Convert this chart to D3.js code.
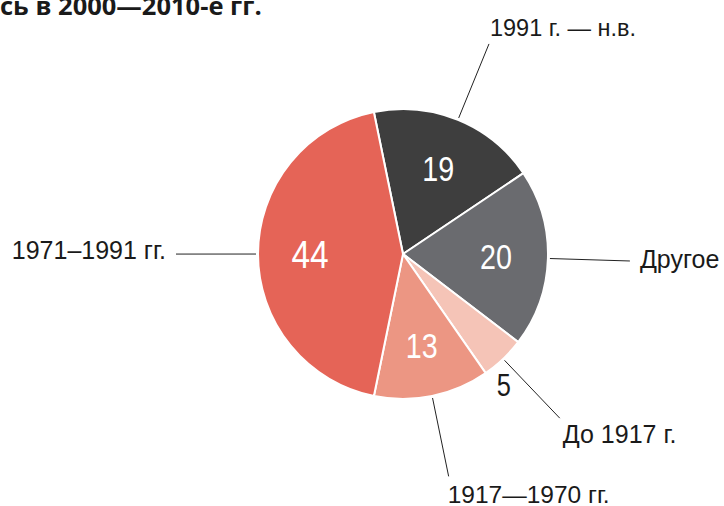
<!DOCTYPE html>
<html>
<head>
<meta charset="utf-8">
<script src="https://cdn.jsdelivr.net/npm/d3@7"></script>
<style>
  body { margin: 0; background: #fff; }
  svg { display: block; }
</style>
</head>
<body>
<div id="chart"></div>
<script>
// data
const categories = ["1991 г. — н.в.", "Другое", "До 1917 г.", "1917—1970 гг.", "1971–1991 гг."];
const values = [19, 20, 5, 13, 44];
const colors = ["#3e3e3e", "#6a6b6f", "#f5c4b7", "#ec9683", "#e56457"];
const title = "сь в 2000—2010-е гг.";

const width = 724;
const height = 506;
const cx = 403, cy = 254;
const radius = 145;
const start = -11.6 * Math.PI / 180;

const svg = d3.select("#chart").append("svg")
    .attr("width", width)
    .attr("height", height)
    .attr("style", "font-family: 'Liberation Sans', Arial, sans-serif;");

// title, cut off by the top edge like in the source
svg.append("text")
    .attr("x", 0)
    .attr("y", 15)
    .attr("font-family", "'Open Sans', sans-serif")
    .attr("font-weight", "bold")
    .attr("font-size", 25.5)
    .attr("fill", "#1a1a1a")
    .text(title);

const pie = d3.pie()
    .sort(null)
    .startAngle(start)
    .endAngle(start + 2 * Math.PI);

const arcs = pie(values);

const arc = d3.arc().innerRadius(0).outerRadius(radius);
const labelArc = d3.arc().innerRadius(93).outerRadius(93);

const g = svg.append("g").attr("transform", `translate(${cx},${cy})`);

g.selectAll("path")
    .data(arcs)
    .join("path")
    .attr("d", arc)
    .attr("fill", (d, i) => colors[i])
    .attr("stroke", "#fff")
    .attr("stroke-width", 2)
    .attr("stroke-linejoin", "round");

// leader lines from the rim outwards
const mid = d => (d.startAngle + d.endAngle) / 2;
const polar = (a, r) => [r * Math.sin(a), -r * Math.cos(a)];

g.append("g")
    .attr("stroke", "#222")
    .attr("stroke-width", 1)
    .selectAll("line")
    .data(arcs)
    .join("line")
    .attr("x1", d => polar(mid(d), radius + 2)[0])
    .attr("y1", d => polar(mid(d), radius + 2)[1])
    .attr("x2", d => polar(mid(d), 227)[0])
    .attr("y2", d => polar(mid(d), 227)[1]);

// category labels next to the line ends
const labelPlace = [
    { dx: 1, dy: -8, anchor: "start", size: 23.5 },
    { dx: 10, dy: 7, anchor: "start", size: 25 },
    { dx: 3, dy: 25, anchor: "start", size: 25 },
    { dx: -1, dy: 27, anchor: "start", size: 24.5 },
    { dx: -10, dy: 5, anchor: "end", size: 25 }
];

g.append("g")
    .selectAll("text")
    .data(arcs)
    .join("text")
    .attr("x", (d, i) => polar(mid(d), 227)[0] + labelPlace[i].dx)
    .attr("y", (d, i) => polar(mid(d), 227)[1] + labelPlace[i].dy)
    .attr("text-anchor", (d, i) => labelPlace[i].anchor)
    .attr("font-size", (d, i) => labelPlace[i].size)
    .attr("fill", "#1a1a1a")
    .text((d, i) => categories[i]);

// values inside the slices; the small one sits just outside
// (condensed look: squeeze the glyphs horizontally)
g.append("g")
    .selectAll("text")
    .data(arcs)
    .join("text")
    .attr("transform", d => {
        let p = labelArc.centroid(d);
        if (d.data < 10) p = polar(mid(d) + 6 * Math.PI / 180, 165);
        const sx = d.data > 40 ? 0.88 : 0.82;
        return `translate(${p[0]},${p[1]}) scale(${sx},1)`;
    })
    .attr("text-anchor", "middle")
    .attr("dy", "0.36em")
    .attr("font-size", d => d.data < 10 ? 31 : d.data > 40 ? 38 : 35)
    .attr("fill", d => d.data < 10 ? "#1a1a1a" : "#fff")
    .text(d => d.data);
</script>
</body>
</html>
